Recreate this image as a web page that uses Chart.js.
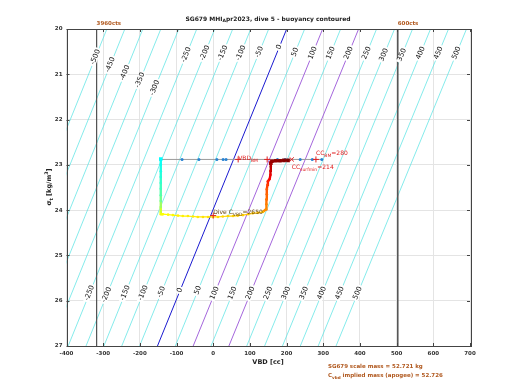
<!DOCTYPE html>
<html>
<head>
<meta charset="utf-8">
<script src="https://cdn.jsdelivr.net/npm/chart.js@4.4.1/dist/chart.umd.min.js"></script>
<style>
  html, body { margin: 0; padding: 0; background: #fff; }
  canvas { display: block; }
</style>
</head>
<body>
<canvas id="buoyChart" width="520" height="390"></canvas>
<script>
// axes
const xTicks = [-400, -300, -200, -100, 0, 100, 200, 300, 400, 500, 600, 700];
const yTicks = [20, 21, 22, 23, 24, 25, 26, 27];

// buoyancy contours [g] and where their labels sit (sigma_t)
const levels = [-500, -450, -400, -350, -300, -250, -200, -150, -100, -50, 0,
                50, 100, 150, 200, 250, 300, 350, 400, 450, 500];
const labelSigmaTop = [20.62, 20.79, 20.97, 21.13, 21.30, 20.57, 20.53, 20.53, 20.53, 20.51, 20.40,
                       20.51, 20.53, 20.53, 20.53, 20.53, 20.57, 20.57, 20.53, 20.53, 20.53];
const labelSigmaBottom = [null, null, null, null, null, 25.83, 25.87, 25.83, 25.83, 25.81, 25.77,
                          25.77, 25.83, 25.83, 25.83, 25.83, 25.83, 25.83, 25.83, 25.83, 25.83];
const scaleMass = 52721;   // g
const hullVolume = 51487;  // cc, neutral at VBD 200 for sigma 20

// pump count limits
const limitVBD = [-318, 503];
const limitNames = ['3960cts', '600cts'];

// dive track (VBD cc, sigma_t, minutes into dive)
const pathVBD = [
  -143, -143, -143, -143, -143, -143, -143, -143, -143, -143, -143,
  -137, -123, -110, -96, -83, -69, -55, -42, -28, -14, -1, 13, 26, 40, 54, 67, 81, 95, 108, 122, 135,
  144, 145, 145, 146, 146, 148, 149, 154, 156, 156, 157, 157, 160, 171, 182, 193, 204
];
const pathSigma = [
  22.87, 23.00, 23.14, 23.27, 23.40, 23.53, 23.67, 23.80, 23.93, 24.04, 24.09,
  24.09, 24.10, 24.11, 24.12, 24.13, 24.13, 24.14, 24.15, 24.15, 24.15, 24.15, 24.15, 24.14, 24.13, 24.13, 24.12, 24.11, 24.09, 24.07, 24.06, 24.04,
  23.98, 23.87, 23.76, 23.65, 23.54, 23.44, 23.36, 23.31, 23.22, 23.13, 23.04, 22.96, 22.92, 22.91, 22.91, 22.90, 22.90
];
const pathTime = [
  0, 2, 4, 6, 8, 10, 13, 18, 25, 33, 38,
  40, 40.5, 41, 41.5, 42, 42.5, 43, 43.5, 44, 44.5, 45, 45.5, 46, 46.5, 47, 47.5, 48, 48.5, 49, 49.5, 50,
  58, 60, 62, 64, 66, 70, 75, 80, 83, 86, 90, 94, 96, 97, 98, 99, 100
];

// surface estimates
const estVBD = [-143, -85, -39, 10, 27, 35, 175, 196, 237, 270, 296];
const estSigma = [22.88, 22.88, 22.88, 22.88, 22.88, 22.88, 22.88, 22.88, 22.88, 22.88, 22.88];

// marked values
const plusVBD = [68, 147, 280, 0];
const plusSigma = [22.88, 22.88, 22.88, 24.12];
const crossVBD = [214];
const crossSigma = [22.88];

const FONT = '"DejaVu Sans", sans-serif';
const BROWN = '#b0581e';

function contourVBD(b, sigma) {
  return (scaleMass + b) / (1 + sigma / 1000) - hullVolume;
}

function jet(t) {
  const c = v => Math.round(255 * Math.min(1, Math.max(0, v)));
  return 'rgb(' + c(1.5 - Math.abs(4 * t - 3)) + ',' + c(1.5 - Math.abs(4 * t - 2)) + ',' + c(1.5 - Math.abs(4 * t - 1)) + ')';
}
const pathColors = pathTime.map(t => jet(0.375 + 0.625 * t / 100));

const datasets = [];

levels.forEach((b, i) => {
  let color = 'rgb(80,226,226)', width = 0.7;
  if (b === 0) { color = '#1a1ad0'; width = 1; }
  if (b === 100 || b === 200) { color = '#9a55d8'; width = 0.9; }
  datasets.push({
    data: [{ x: contourVBD(b, 27), y: 27 }, { x: contourVBD(b, 20), y: 20 }],
    showLine: true, borderColor: color, borderWidth: width, pointRadius: 0, order: 10
  });
});

limitVBD.forEach(v => {
  datasets.push({
    data: [{ x: v, y: 20 }, { x: v, y: 27 }],
    showLine: true, borderColor: '#555', borderWidth: 1, pointRadius: 0, order: 9
  });
});

datasets.push({
  data: estVBD.map((v, i) => ({ x: v, y: estSigma[i] })),
  showLine: true, borderColor: '#9a9a9a', borderWidth: 1,
  pointRadius: 1.5, pointBackgroundColor: 'rgb(40,130,210)', pointBorderWidth: 0, order: 5
});

datasets.push({
  data: pathVBD.map((v, i) => ({ x: v, y: pathSigma[i] })),
  showLine: true, borderWidth: 2,
  segment: {
    borderColor: ctx => pathColors[ctx.p1DataIndex],
    borderWidth: ctx => (pathTime[ctx.p1DataIndex] > 40 && pathTime[ctx.p1DataIndex] <= 50 ? 1.2 : 2.4)
  },
  pointBackgroundColor: pathColors, pointBorderColor: pathColors, pointBorderWidth: 0,
  pointRadius: pathTime.map((t, i) => i === 0 ? 2.5 : (t >= 94 ? 2.6 : 1.3)),
  pointStyle: pathTime.map((t, i) => (i === 0 || t >= 94) ? 'rect' : 'circle'),
  order: 3
});

datasets.push({
  data: plusVBD.map((v, i) => ({ x: v, y: plusSigma[i] })),
  showLine: false, pointStyle: 'cross', pointRadius: 3,
  pointBorderColor: '#e02020', pointBorderWidth: 1, order: 1
});
datasets.push({
  data: crossVBD.map((v, i) => ({ x: v, y: crossSigma[i] })),
  showLine: false, pointStyle: 'crossRot', pointRadius: 3,
  pointBorderColor: '#e02020', pointBorderWidth: 1, order: 1
});

// text with _sub and ^sup parts: [[text, 'n'|'sub'|'sup'], ...]
function richWidth(ctx, parts, size, weight) {
  let w = 0;
  parts.forEach(p => {
    ctx.font = weight + ' ' + (p[1] === 'n' ? size : size * 0.75) + 'px ' + FONT;
    w += ctx.measureText(p[0]).width;
  });
  return w;
}
function drawRich(ctx, parts, x, y, size, weight, color, align) {
  ctx.save();
  ctx.fillStyle = color;
  ctx.textBaseline = 'middle';
  ctx.textAlign = 'left';
  let cx = x;
  if (align === 'center') cx = x - richWidth(ctx, parts, size, weight) / 2;
  parts.forEach(p => {
    const s = p[1] === 'n' ? size : size * 0.75;
    ctx.font = weight + ' ' + s + 'px ' + FONT;
    const dy = p[1] === 'sub' ? size * 0.35 : (p[1] === 'sup' ? -size * 0.35 : 0);
    ctx.fillText(p[0], cx, y + dy);
    cx += ctx.measureText(p[0]).width;
  });
  ctx.restore();
}

const decorPlugin = {
  id: 'decor',
  afterDatasetsDraw(chart) {
    const ctx = chart.ctx;
    const xs = chart.scales.x, ys = chart.scales.y;
    const a = chart.chartArea;

    // contour labels
    ctx.save();
    ctx.beginPath();
    ctx.rect(a.left, a.top, a.right - a.left, a.bottom - a.top);
    ctx.clip();
    levels.forEach((b, i) => {
      const x1 = xs.getPixelForValue(contourVBD(b, 27)), y1 = ys.getPixelForValue(27);
      const x2 = xs.getPixelForValue(contourVBD(b, 20)), y2 = ys.getPixelForValue(20);
      const ang = Math.atan2(y2 - y1, x2 - x1);
      [labelSigmaTop[i], labelSigmaBottom[i]].forEach(sig => {
        if (sig === null) return;
        const px = xs.getPixelForValue(contourVBD(b, sig));
        const py = ys.getPixelForValue(sig);
        ctx.save();
        ctx.translate(px, py);
        ctx.rotate(ang);
        ctx.font = '7px ' + FONT;
        const txt = String(b);
        const w = ctx.measureText(txt).width;
        ctx.fillStyle = '#fff';
        ctx.fillRect(-w / 2 - 1.5, -3, w + 3, 6);
        ctx.fillStyle = '#111';
        ctx.textAlign = 'center';
        ctx.textBaseline = 'middle';
        ctx.fillText(txt, 0, 0);
        ctx.restore();
      });
    });
    ctx.restore();
  },
  afterDraw(chart) {
    const ctx = chart.ctx;
    const xs = chart.scales.x, ys = chart.scales.y;
    const a = chart.chartArea;

    // axes box and inward ticks
    ctx.save();
    ctx.strokeStyle = '#444';
    ctx.lineWidth = 1;
    ctx.strokeRect(Math.round(a.left) + 0.5, Math.round(a.top) + 0.5,
                   Math.round(a.right - a.left), Math.round(a.bottom - a.top));
    ctx.beginPath();
    xTicks.forEach(v => {
      const px = Math.round(xs.getPixelForValue(v)) + 0.5;
      ctx.moveTo(px, a.bottom); ctx.lineTo(px, a.bottom - 3);
      ctx.moveTo(px, a.top); ctx.lineTo(px, a.top + 3);
    });
    yTicks.forEach(v => {
      const py = Math.round(ys.getPixelForValue(v)) + 0.5;
      ctx.moveTo(a.left, py); ctx.lineTo(a.left + 3, py);
      ctx.moveTo(a.right, py); ctx.lineTo(a.right - 3, py);
    });
    ctx.stroke();
    ctx.restore();

    // title and axis titles
    drawRich(ctx, [['SG679 MHI', 'n'], ['A', 'sub'], ['pr2023, dive 5 - buoyancy contoured', 'n']],
             268, 19, 6, 'bold', '#222', 'center');
    drawRich(ctx, [['VBD [cc]', 'n']], 268, 362, 6.5, 'bold', '#222', 'center');
    ctx.save();
    ctx.translate(49, 187);
    ctx.rotate(-Math.PI / 2);
    drawRich(ctx, [['\u03c3', 'n'], ['t', 'sub'], [' [kg/m', 'n'], ['3', 'sup'], [']', 'n']],
             0, 0, 6.5, 'bold', '#222', 'center');
    ctx.restore();

    // pump limits
    limitVBD.forEach((v, i) => {
      drawRich(ctx, [[limitNames[i], 'n']], xs.getPixelForValue(v), 24, 5.5, 'bold', BROWN, 'left');
    });

    // annotations
    const RED = '#e02020';
    drawRich(ctx, [['VBD', 'n'], ['BM', 'sub']],
             xs.getPixelForValue(plusVBD[0]), ys.getPixelForValue(plusSigma[0]) - 1, 6, 'normal', RED, 'left');
    drawRich(ctx, [['CC', 'n'], ['BM', 'sub'], ['=280', 'n']],
             xs.getPixelForValue(plusVBD[2]), ys.getPixelForValue(plusSigma[2]) - 6, 6, 'normal', RED, 'left');
    drawRich(ctx, [['CC', 'n'], ['surfmin', 'sub'], ['=214', 'n']],
             xs.getPixelForValue(crossVBD[0]), ys.getPixelForValue(crossSigma[0]) + 8, 6, 'normal', RED, 'left');
    drawRich(ctx, [['Dive C', 'n'], ['VBD', 'sub'], ['=2650', 'n']],
             xs.getPixelForValue(plusVBD[3]), ys.getPixelForValue(plusSigma[3]) - 3, 6, 'normal', '#6a4a10', 'left');

    drawRich(ctx, [['SG679 scale mass = 52.721 kg', 'n']], 328, 367, 5.5, 'bold', BROWN, 'left');
    drawRich(ctx, [['C', 'n'], ['vbd', 'sub'], [' implied mass (apogee) = 52.726', 'n']], 328, 376, 5.5, 'bold', BROWN, 'left');
  }
};

const chart = new Chart(document.getElementById('buoyChart'), {
  type: 'scatter',
  data: { datasets },
  options: {
    responsive: false,
    animation: false,
    layout: { padding: { left: 0, top: 29, right: 50, bottom: 0 } },
    plugins: { legend: { display: false }, tooltip: { enabled: false }, title: { display: false } },
    scales: {
      x: {
        type: 'linear', min: -400, max: 700,
        afterBuildTicks: s => { s.ticks = xTicks.map(v => ({ value: v })); },
        afterFit: s => { s.height = 44; },
        grid: { color: '#e4e4e4', lineWidth: 1, drawTicks: false },
        border: { display: false },
        ticks: { padding: 4, color: '#333', font: { family: FONT, size: 5.5, weight: 'bold' }, maxRotation: 0, autoSkip: false }
      },
      y: {
        type: 'linear', min: 20, max: 27, reverse: true,
        afterBuildTicks: s => { s.ticks = yTicks.map(v => ({ value: v })); },
        afterFit: s => { s.width = 66.5; },
        grid: { color: '#e4e4e4', lineWidth: 1, drawTicks: false },
        border: { display: false },
        ticks: { padding: 4, color: '#333', font: { family: FONT, size: 5.5, weight: 'bold' }, autoSkip: false }
      }
    }
  },
  plugins: [decorPlugin]
});
</script>
</body>
</html>
